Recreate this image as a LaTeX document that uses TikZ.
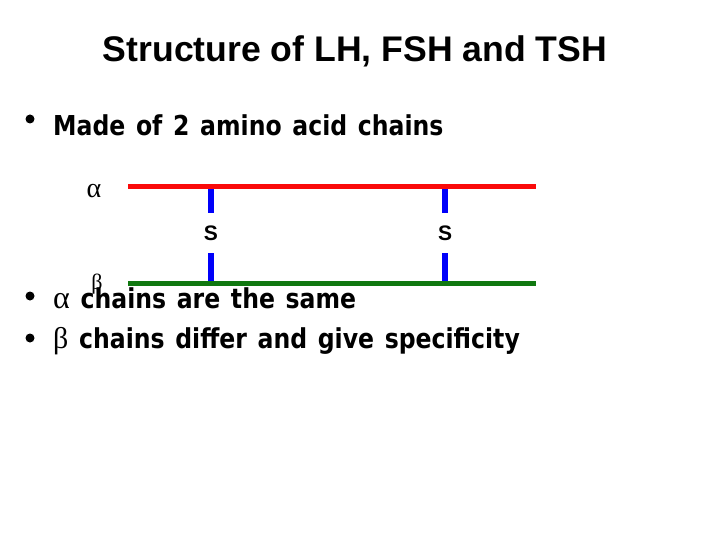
\documentclass[tikz,border=0pt]{standalone}
\usepackage{fontspec}
\setmainfont[FakeStretch=0.86,WordSpace=1.3]{DejaVu Sans}
\newfontfamily\titlefont{Liberation Sans}
\newfontfamily\greekfont{Liberation Serif}
\usetikzlibrary{positioning}
\definecolor{chainred}{RGB}{250,10,10}
\definecolor{chaingreen}{RGB}{16,120,16}
\definecolor{bondblue}{RGB}{0,0,250}

\begin{document}
\begin{tikzpicture}[x=1pt,y=-1pt,
    chain/.style={line width=5pt},
    bond/.style={bondblue,line width=6pt},
    txt/.style={anchor=base west,inner sep=0pt,
                font=\fontsize{27.4}{32}\selectfont\bfseries},
    bul/.style={circle,fill=black,inner sep=0pt,minimum size=9pt},
    greek/.style={inner sep=0pt,font=\greekfont\fontsize{28}{28}\selectfont},
    slabel/.style={inner sep=0pt,minimum height=40pt,
                   font=\titlefont\bfseries\fontsize{21}{21}\selectfont}]
    \useasboundingbox (0,0) rectangle (720,540);
    % title
    \node[inner sep=0pt,anchor=base,font=\titlefont\bfseries\fontsize{35.6}{40}\selectfont]
        (title) at (355,62) {Structure of LH, FSH and TSH};
    % first bullet
    \node[bul] (b1) at (30,119) {};
    \node[txt] (t1) at (53,136) {Made of 2 amino acid chains};
    % the two chains
    \coordinate (a1) at (128,187); \coordinate (a2) at (536,187);
    \coordinate (g1) at (128,283); \coordinate (g2) at (536,283);
    \node[greek] (alpha) at (94,191) {α};
    \node[greek,font=\greekfont\fontsize{22}{22}\selectfont] (beta) at (97,284) {β};
    \node[slabel] (s1) at (211,233) {S};
    \node[slabel] (s2) at (445,233) {S};
    \draw[bond] (s1.north) -- (s1.north |- a1);
    \draw[bond] (s1.south) -- (s1.south |- g1);
    \draw[bond] (s2.north) -- (s2.north |- a1);
    \draw[bond] (s2.south) -- (s2.south |- g1);
    \draw[chain,chainred]   (a1) -- (a2);
    \draw[chain,chaingreen] (g1) -- (g2);
    % last two bullets
    \node[bul] (b2) at (30,296) {};
    \node[txt] (t2) at (53,308) {{\greekfont\mdseries\fontsize{32}{32}\selectfont α} chains are the same};
    \node[bul] (b3) at (30,338) {};
    \node[txt] (t3) at (53,348) {{\greekfont\mdseries\fontsize{30}{32}\selectfont β} chains differ and give specificity};
\end{tikzpicture}
\end{document}
